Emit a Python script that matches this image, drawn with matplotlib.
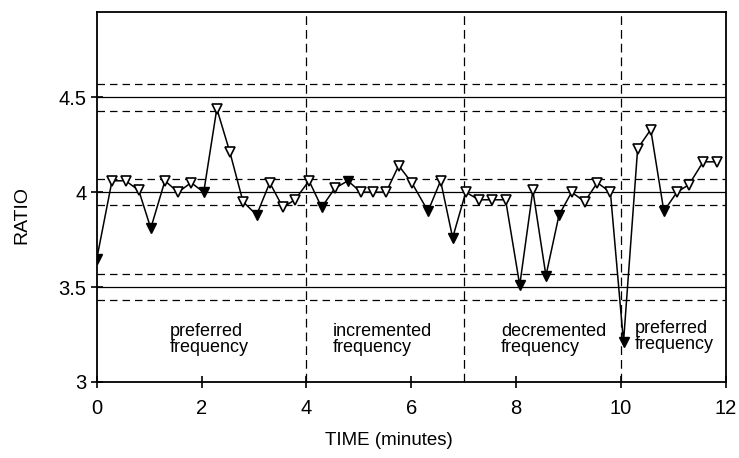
import matplotlib.pyplot as plt
import numpy as np

plt.rcParams['font.family'] = ['Liberation Sans', 'DejaVu Sans']

# data
time_min = [0.0, 0.29, 0.55, 0.80, 1.03, 1.30, 1.55, 1.80, 2.04, 2.29, 2.54, 2.79,
            3.05, 3.30, 3.55, 3.78, 4.05, 4.29, 4.54, 4.79, 5.04, 5.27, 5.52, 5.76,
            6.01, 6.32, 6.56, 6.79, 7.04, 7.29, 7.54, 7.80, 8.07, 8.32, 8.57, 8.82,
            9.06, 9.31, 9.55, 9.80, 10.05, 10.32, 10.57, 10.82, 11.07, 11.30, 11.57, 11.83]
ratio = [3.65, 4.06, 4.06, 4.01, 3.81, 4.06, 4.00, 4.05, 4.00, 4.44, 4.21, 3.95,
         3.88, 4.05, 3.92, 3.96, 4.06, 3.92, 4.02, 4.06, 4.00, 4.00, 4.00, 4.14,
         4.05, 3.90, 4.06, 3.76, 4.00, 3.96, 3.96, 3.96, 3.51, 4.01, 3.56, 3.88,
         4.00, 3.95, 4.05, 4.00, 3.21, 4.23, 4.33, 3.90, 4.00, 4.04, 4.16, 4.16]
filled = [1, 0, 0, 0, 1, 0, 0, 0, 1, 0, 0, 0,
          1, 0, 0, 0, 0, 1, 0, 1, 0, 0, 0, 0,
          0, 1, 0, 1, 0, 0, 0, 0, 1, 0, 1, 1,
          0, 0, 0, 0, 1, 0, 0, 1, 0, 0, 0, 0]

solid_levels = [3.5, 4.0, 4.5]
dashed_levels = [3.43, 3.57, 3.93, 4.07, 4.43, 4.57]
phase_bounds = [4, 7, 10]
phase_labels = ['preferred\nfrequency', 'incremented\nfrequency',
                'decremented\nfrequency', 'preferred\nfrequency']
label_x = [1.39, 4.50, 7.71, 10.26]
label_y = [3.222, 3.222, 3.222, 3.24]

fig = plt.figure(figsize=(7.39, 4.58), dpi=100)
ax = fig.add_axes([0.131, 0.166, 0.851, 0.808])

for lv in solid_levels:
    ax.axhline(lv, color='black', lw=0.9)
for lv in dashed_levels:
    ax.axhline(lv, color='black', lw=0.9, ls=(0, (6, 4)))
for b in phase_bounds:
    ax.axvline(b, color='black', lw=0.9, ls=(0, (7, 4)))

t = np.array(time_min)
r = np.array(ratio)
f = np.array(filled, dtype=bool)
ax.plot(t, r, color='black', lw=1.1, zorder=3)
ax.plot(t[~f], r[~f], 'v', ms=7.5, mfc='white', mec='black', mew=1.2, ls='none', zorder=4)
ax.plot(t[f], r[f], 'v', ms=7.5, mfc='black', mec='black', ls='none', zorder=4)

for x, y, lab in zip(label_x, label_y, phase_labels):
    ax.text(x, y, lab, ha='left', va='center', fontsize=13, linespacing=0.92)

ax.set_xlim(0, 12)
ax.set_ylim(3, 4.95)
ax.set_xticks([0, 2, 4, 6, 8, 10, 12])
ax.set_yticks([3, 3.5, 4, 4.5])
ax.set_yticklabels(['3', '3.5', '4', '4.5'])
ax.tick_params(direction='inout', length=8, width=1.2, labelsize=14.5)
ax.tick_params(axis='x', pad=8)
for s in ax.spines.values():
    s.set_linewidth(1.3)

ax.set_xlabel('TIME (minutes)', fontsize=13.5)
ax.set_ylabel('RATIO', fontsize=14)
ax.xaxis.set_label_coords(0.464, -0.135)
ax.yaxis.set_label_coords(-0.105, 0.45)

plt.savefig('out.png', dpi=100)
